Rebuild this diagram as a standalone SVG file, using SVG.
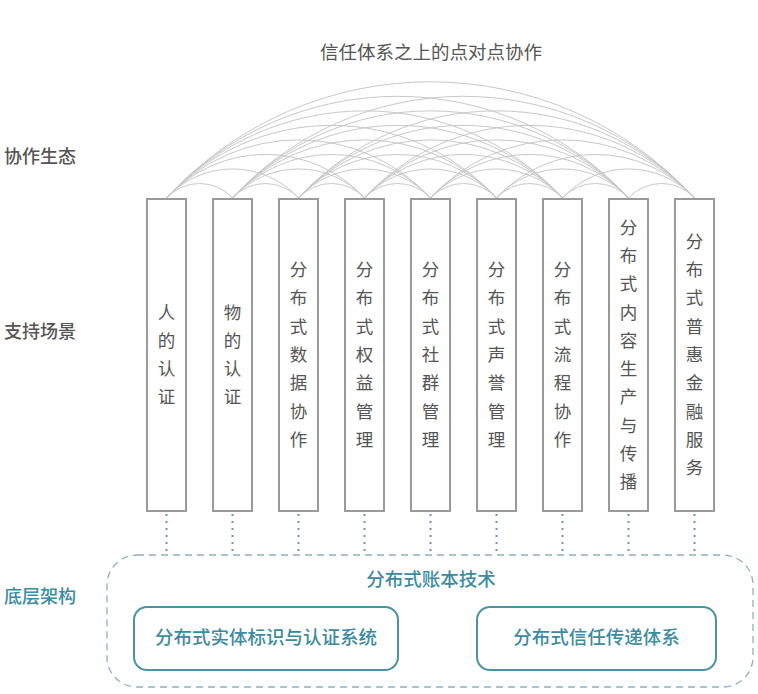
<svg xmlns="http://www.w3.org/2000/svg" width="758" height="694" viewBox="0 0 758 694">
<style>
text{font-family:"Noto Sans CJK SC","Noto Sans",sans-serif}
.lbl{font-size:17.5px;fill:#555}
.title{font-size:18.5px;fill:#555}
.side{font-size:18px;fill:#555;font-weight:500}
.teal{fill:#3b8c9e}
.box{fill:#fff;stroke:#9a9a9a;stroke-width:2}
.arc{fill:none;stroke:#c8c8c8;stroke-width:1}
.dot{stroke:#6f9aa4;stroke-width:2;stroke-dasharray:2 5}
.outer{fill:none;stroke:#8cb3bc;stroke-width:1.3;stroke-dasharray:7 5}
.inner{fill:#fff;stroke:#4a93a3;stroke-width:2}
.in{font-size:18.5px;fill:#3b8c9e;font-weight:500;text-anchor:middle}
.v{text-anchor:middle}
</style>
<text class="title" x="431" y="59" text-anchor="middle">信任体系之上的点对点协作</text>
<text class="side" x="4" y="163">协作生态</text>
<text class="side" x="4" y="338">支持场景</text>
<text class="side teal" x="4" y="603">底层架构</text>
<g id="connectors">
<path class="arc" d="M166.5 198A44.75 44.75 0 0 1 232.5 198"/>
<path class="arc" d="M232.5 198A44.75 44.75 0 0 1 298.5 198"/>
<path class="arc" d="M298.5 198A44.75 44.75 0 0 1 364.5 198"/>
<path class="arc" d="M364.5 198A44.75 44.75 0 0 1 430.5 198"/>
<path class="arc" d="M430.5 198A44.75 44.75 0 0 1 496.5 198"/>
<path class="arc" d="M496.5 198A44.75 44.75 0 0 1 562.5 198"/>
<path class="arc" d="M562.5 198A44.75 44.75 0 0 1 628.5 198"/>
<path class="arc" d="M628.5 198A44.75 44.75 0 0 1 694.5 198"/>
<path class="arc" d="M166.5 198A89.5 89.5 0 0 1 298.5 198"/>
<path class="arc" d="M232.5 198A89.5 89.5 0 0 1 364.5 198"/>
<path class="arc" d="M298.5 198A89.5 89.5 0 0 1 430.5 198"/>
<path class="arc" d="M364.5 198A89.5 89.5 0 0 1 496.5 198"/>
<path class="arc" d="M430.5 198A89.5 89.5 0 0 1 562.5 198"/>
<path class="arc" d="M496.5 198A89.5 89.5 0 0 1 628.5 198"/>
<path class="arc" d="M562.5 198A89.5 89.5 0 0 1 694.5 198"/>
<path class="arc" d="M166.5 198A134.25 134.25 0 0 1 364.5 198"/>
<path class="arc" d="M232.5 198A134.25 134.25 0 0 1 430.5 198"/>
<path class="arc" d="M298.5 198A134.25 134.25 0 0 1 496.5 198"/>
<path class="arc" d="M364.5 198A134.25 134.25 0 0 1 562.5 198"/>
<path class="arc" d="M430.5 198A134.25 134.25 0 0 1 628.5 198"/>
<path class="arc" d="M496.5 198A134.25 134.25 0 0 1 694.5 198"/>
<path class="arc" d="M166.5 198A179 179 0 0 1 430.5 198"/>
<path class="arc" d="M232.5 198A179 179 0 0 1 496.5 198"/>
<path class="arc" d="M298.5 198A179 179 0 0 1 562.5 198"/>
<path class="arc" d="M364.5 198A179 179 0 0 1 628.5 198"/>
<path class="arc" d="M430.5 198A179 179 0 0 1 694.5 198"/>
<path class="arc" d="M166.5 198A223.75 223.75 0 0 1 496.5 198"/>
<path class="arc" d="M232.5 198A223.75 223.75 0 0 1 562.5 198"/>
<path class="arc" d="M298.5 198A223.75 223.75 0 0 1 628.5 198"/>
<path class="arc" d="M364.5 198A223.75 223.75 0 0 1 694.5 198"/>
<path class="arc" d="M166.5 198A268.5 268.5 0 0 1 562.5 198"/>
<path class="arc" d="M232.5 198A268.5 268.5 0 0 1 628.5 198"/>
<path class="arc" d="M298.5 198A268.5 268.5 0 0 1 694.5 198"/>
<path class="arc" d="M166.5 198A313.25 313.25 0 0 1 628.5 198"/>
<path class="arc" d="M232.5 198A313.25 313.25 0 0 1 694.5 198"/>
<path class="arc" d="M166.5 198A358 358 0 0 1 694.5 198"/>
<path class="dot" d="M166.5 514V554M232.5 514V554M298.5 514V554M364.5 514V554M430.5 514V554M496.5 514V554M562.5 514V554M628.5 514V554M694.5 514V554"/>
</g>
<g id="n1"><rect class="box" x="147" y="199" width="39" height="312"/>
<text class="lbl v"><tspan x="166.5" y="318.5">人</tspan><tspan x="166.5" y="346.8">的</tspan><tspan x="166.5" y="375.1">认</tspan><tspan x="166.5" y="403.4">证</tspan></text></g>
<g id="n2"><rect class="box" x="213" y="199" width="39" height="312"/>
<text class="lbl v"><tspan x="232.5" y="318.5">物</tspan><tspan x="232.5" y="346.8">的</tspan><tspan x="232.5" y="375.1">认</tspan><tspan x="232.5" y="403.4">证</tspan></text></g>
<g id="n3"><rect class="box" x="279" y="199" width="39" height="312"/>
<text class="lbl v"><tspan x="298.5" y="276.1">分</tspan><tspan x="298.5" y="304.4">布</tspan><tspan x="298.5" y="332.7">式</tspan><tspan x="298.5" y="361">数</tspan><tspan x="298.5" y="389.3">据</tspan><tspan x="298.5" y="417.6">协</tspan><tspan x="298.5" y="445.9">作</tspan></text></g>
<g id="n4"><rect class="box" x="345" y="199" width="39" height="312"/>
<text class="lbl v"><tspan x="364.5" y="276.1">分</tspan><tspan x="364.5" y="304.4">布</tspan><tspan x="364.5" y="332.7">式</tspan><tspan x="364.5" y="361">权</tspan><tspan x="364.5" y="389.3">益</tspan><tspan x="364.5" y="417.6">管</tspan><tspan x="364.5" y="445.9">理</tspan></text></g>
<g id="n5"><rect class="box" x="411" y="199" width="39" height="312"/>
<text class="lbl v"><tspan x="430.5" y="276.1">分</tspan><tspan x="430.5" y="304.4">布</tspan><tspan x="430.5" y="332.7">式</tspan><tspan x="430.5" y="361">社</tspan><tspan x="430.5" y="389.3">群</tspan><tspan x="430.5" y="417.6">管</tspan><tspan x="430.5" y="445.9">理</tspan></text></g>
<g id="n6"><rect class="box" x="477" y="199" width="39" height="312"/>
<text class="lbl v"><tspan x="496.5" y="276.1">分</tspan><tspan x="496.5" y="304.4">布</tspan><tspan x="496.5" y="332.7">式</tspan><tspan x="496.5" y="361">声</tspan><tspan x="496.5" y="389.3">誉</tspan><tspan x="496.5" y="417.6">管</tspan><tspan x="496.5" y="445.9">理</tspan></text></g>
<g id="n7"><rect class="box" x="543" y="199" width="39" height="312"/>
<text class="lbl v"><tspan x="562.5" y="276.1">分</tspan><tspan x="562.5" y="304.4">布</tspan><tspan x="562.5" y="332.7">式</tspan><tspan x="562.5" y="361">流</tspan><tspan x="562.5" y="389.3">程</tspan><tspan x="562.5" y="417.6">协</tspan><tspan x="562.5" y="445.9">作</tspan></text></g>
<g id="n8"><rect class="box" x="609" y="199" width="39" height="312"/>
<text class="lbl v"><tspan x="628.5" y="233.6">分</tspan><tspan x="628.5" y="261.9">布</tspan><tspan x="628.5" y="290.2">式</tspan><tspan x="628.5" y="318.5">内</tspan><tspan x="628.5" y="346.8">容</tspan><tspan x="628.5" y="375.1">生</tspan><tspan x="628.5" y="403.4">产</tspan><tspan x="628.5" y="431.7">与</tspan><tspan x="628.5" y="460">传</tspan><tspan x="628.5" y="488.3">播</tspan></text></g>
<g id="n9"><rect class="box" x="675" y="199" width="39" height="312"/>
<text class="lbl v"><tspan x="694.5" y="247.8">分</tspan><tspan x="694.5" y="276.1">布</tspan><tspan x="694.5" y="304.4">式</tspan><tspan x="694.5" y="332.7">普</tspan><tspan x="694.5" y="361">惠</tspan><tspan x="694.5" y="389.3">金</tspan><tspan x="694.5" y="417.6">融</tspan><tspan x="694.5" y="445.9">服</tspan><tspan x="694.5" y="474.2">务</tspan></text></g>
<g id="ledger"><rect class="outer" x="107" y="555" width="646" height="132" rx="30"/>
<text class="in" x="431" y="586">分布式账本技术</text></g>
<g id="identity"><rect class="inner" x="134" y="607" width="264" height="63" rx="13"/>
<text class="in" x="266" y="644">分布式实体标识与认证系统</text></g>
<g id="trust"><rect class="inner" x="477" y="607" width="239" height="63" rx="13"/>
<text class="in" x="596.5" y="644">分布式信任传递体系</text></g>
</svg>
